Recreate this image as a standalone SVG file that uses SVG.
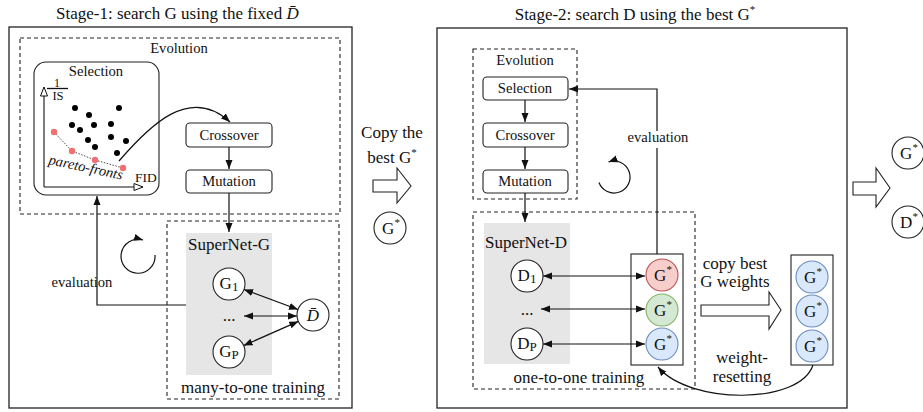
<svg xmlns="http://www.w3.org/2000/svg" width="923" height="412" viewBox="0 0 923 412" font-family="'Liberation Serif', 'Times New Roman', 'DejaVu Serif', serif">
<style>
text{fill:#111;}
.t17{font-size:17px;}
.t15{font-size:14.6px;}
.mid{text-anchor:middle;}
.panel{fill:#fff;stroke:#222;stroke-width:1.3;}
.dash{fill:none;stroke:#222;stroke-width:1.1;stroke-dasharray:4,3;}
.box{fill:#fff;stroke:#222;stroke-width:1.1;}
.gray{fill:#e6e6e6;stroke:none;}
.node{fill:#fff;stroke:#222;stroke-width:1.1;}
.red{fill:#f8cecc;stroke:#b85450;stroke-width:1.1;}
.green{fill:#d5e8d4;stroke:#82b366;stroke-width:1.1;}
.blue{fill:#dae8fc;stroke:#6c8ebf;stroke-width:1.1;}
.line{fill:none;stroke:#111;stroke-width:1.2;}
.one{marker-end:url(#arr);}
.two{marker-start:url(#arr);marker-end:url(#arr);}
.block{fill:#fff;stroke:#222;stroke-width:1.1;}
.sup{font-size:11px;}
.sub{font-size:13px;}
.dot{fill:#000;}
.rdot{fill:#f07070;}
</style>
<defs>
<marker id="arr" markerUnits="userSpaceOnUse" markerWidth="10" markerHeight="8" refX="9" refY="4" orient="auto-start-reverse">
<path d="M0,0.5 L9,4 L0,7.5 z" fill="#111"/>
</marker>
<marker id="hollow" markerUnits="userSpaceOnUse" markerWidth="12" markerHeight="10" refX="10" refY="4.5" orient="auto">
<path d="M1,1 L10,4.5 L1,8 z" fill="#fff" stroke="#111" stroke-width="1"/>
</marker>
</defs>

<!-- Stage 1 -->
<g id="stage1">
<text class="t17" x="56" y="19">Stage-1: search G using the fixed <tspan font-style="italic">D̄</tspan></text>
<rect class="panel" x="9" y="27" width="343" height="381"/>
</g>
<g id="evolution1">
<rect class="dash" x="20" y="38" width="320" height="176"/>
<text class="t15 mid" x="179" y="53">Evolution</text>
</g>
<g id="selection1">
<rect class="box" x="34" y="62" width="125" height="133" rx="12"/>
<text class="t15 mid" x="96" y="76">Selection</text>
<line x1="44" y1="187" x2="44" y2="87" stroke="#111" stroke-width="1.1" marker-end="url(#hollow)"/>
<line x1="44" y1="187" x2="143" y2="187" stroke="#111" stroke-width="1.1" marker-end="url(#hollow)"/>
<text x="57" y="86.5" font-size="12" text-anchor="middle">1</text>
<line x1="47" y1="88.5" x2="68" y2="88.5" stroke="#111" stroke-width="1.3"/>
<text x="58" y="100" font-size="12.5" text-anchor="middle">IS</text>
<text x="135" y="182" font-size="13.5">FID</text>
<circle class="dot" cx="75" cy="108" r="3"/>
<circle class="dot" cx="89" cy="115" r="3"/>
<circle class="dot" cx="119" cy="108" r="3"/>
<circle class="dot" cx="72" cy="125" r="3"/>
<circle class="dot" cx="94" cy="125" r="3"/>
<circle class="dot" cx="111" cy="124" r="3"/>
<circle class="dot" cx="80" cy="130" r="3"/>
<circle class="dot" cx="88" cy="140" r="3"/>
<circle class="dot" cx="111" cy="137" r="3"/>
<circle class="dot" cx="126" cy="141" r="3"/>
<circle class="dot" cx="95" cy="147" r="3"/>
<circle class="dot" cx="117" cy="153" r="3"/>
<polyline points="54,132 72,151 95,160 123,168" fill="none" stroke="#333" stroke-width="0.9" stroke-dasharray="1.5,1.5"/>
<circle class="rdot" cx="54" cy="132" r="3.2"/>
<circle class="rdot" cx="72" cy="151" r="3.2"/>
<circle class="rdot" cx="95" cy="160" r="3.2"/>
<circle class="rdot" cx="123" cy="168" r="3.2"/>
<text x="48" y="164" font-size="14.5" font-style="italic" transform="rotate(12 48 164)">pareto-fronts</text>
</g>
<g id="crossover1">
<rect class="box" x="186" y="123" width="86" height="24" rx="4"/>
<text class="t15 mid" x="229" y="140">Crossover</text>
</g>
<g id="mutation1">
<rect class="box" x="186" y="170" width="86" height="23" rx="4"/>
<text class="t15 mid" x="229" y="186">Mutation</text>
</g>
<g id="cycle1">
<path class="line" d="M155,255 A17,17 0 1 1 143,240" marker-end="url(#arr)"/>
</g>
<g id="training1">
<rect class="dash" x="167" y="221" width="172" height="178"/>
<rect class="gray" x="186" y="233" width="86" height="142"/>
<text class="t17 mid" x="229" y="250">SuperNet-G</text>
<text class="t17 mid" x="253" y="393">many-to-one training</text>
<text class="t17 mid" x="229" y="321">...</text>
</g>
<g id="G1">
<circle class="node" cx="229" cy="284" r="16"/>
<text class="t17 mid" x="229" y="289">G<tspan class="sub" dy="2">1</tspan></text>
</g>
<g id="Gp">
<circle class="node" cx="229" cy="352" r="16"/>
<text class="t17 mid" x="229" y="357">G<tspan class="sub" dy="2">P</tspan></text>
</g>
<g id="Dbar">
<circle class="node" cx="313" cy="315" r="16"/>
<text class="t17 mid" x="313" y="321" font-style="italic">D̄</text>
</g>
<g id="evaluation1label">
<text class="t15 mid" x="82" y="287">evaluation</text>
</g>

<!-- middle -->
<g id="copy-best">
<text class="t17 mid" x="392" y="138">Copy the</text>
<text class="t17 mid" x="392" y="163">best G<tspan class="sup" dy="-7">*</tspan></text>
<polygon class="block" points="373,180 397,180 397,168 411,186 397,203 397,192 373,192"/>
</g>
<g id="Gstar-mid">
<circle class="node" cx="390" cy="228" r="16"/>
<text class="t17 mid" x="391" y="234">G<tspan class="sup" dy="-8">*</tspan></text>
</g>

<!-- Stage 2 -->
<g id="stage2">
<text class="t17 mid" x="635" y="20">Stage-2: search D using the best G<tspan class="sup" dy="-7">*</tspan></text>
<rect class="panel" x="437" y="28" width="410" height="380"/>
</g>
<g id="evolution2">
<rect class="dash" x="473" y="49" width="104" height="150"/>
<text class="t15 mid" x="525" y="65">Evolution</text>
</g>
<g id="selection2">
<rect class="box" x="483" y="77" width="85" height="23" rx="4"/>
<text class="t15 mid" x="525" y="93">Selection</text>
</g>
<g id="crossover2">
<rect class="box" x="483" y="123" width="85" height="24" rx="4"/>
<text class="t15 mid" x="525" y="140">Crossover</text>
</g>
<g id="mutation2">
<rect class="box" x="483" y="170" width="85" height="23" rx="4"/>
<text class="t15 mid" x="525" y="186">Mutation</text>
</g>
<g id="cycle2">
<path class="line" d="M599,182.5 A16,16 0 1 0 608.5,162" marker-end="url(#arr)"/>
</g>
<g id="evaluation2label">
<text class="t15 mid" x="658" y="142">evaluation</text>
</g>
<g id="training2">
<rect class="dash" x="473" y="212" width="222" height="177"/>
<rect class="gray" x="484" y="223" width="86" height="141"/>
<text class="t17 mid" x="526" y="248">SuperNet-D</text>
<text class="t17 mid" x="579" y="383">one-to-one training</text>
<text class="t17 mid" x="527" y="315">...</text>
</g>
<g id="D1">
<circle class="node" cx="527" cy="276" r="16"/>
<text class="t17 mid" x="527" y="281">D<tspan class="sub" dy="2">1</tspan></text>
</g>
<g id="Dp">
<circle class="node" cx="527" cy="344" r="16"/>
<text class="t17 mid" x="527" y="349">D<tspan class="sub" dy="2">P</tspan></text>
</g>
<g id="Gstar-column">
<rect class="box" x="631" y="254" width="52" height="111"/>
<circle class="red" cx="662" cy="275" r="16"/>
<text class="t17 mid" x="663" y="281">G<tspan class="sup" dy="-8">*</tspan></text>
<circle class="green" cx="662" cy="310" r="16"/>
<text class="t17 mid" x="663" y="316">G<tspan class="sup" dy="-8">*</tspan></text>
<circle class="blue" cx="662" cy="344" r="16"/>
<text class="t17 mid" x="663" y="350">G<tspan class="sup" dy="-8">*</tspan></text>
</g>
<g id="copy-weights">
<text class="t17 mid" x="735" y="269">copy best</text>
<text class="t17 mid" x="735" y="287">G weights</text>
<polygon class="block" points="701,305 769,305 769,292 781,310 769,329 769,316 701,316"/>
</g>
<g id="Gstar-copies">
<rect class="box" x="791" y="255" width="42" height="110"/>
<circle class="blue" cx="812" cy="277" r="16"/>
<text class="t17 mid" x="813" y="283">G<tspan class="sup" dy="-8">*</tspan></text>
<circle class="blue" cx="812" cy="311" r="16"/>
<text class="t17 mid" x="813" y="317">G<tspan class="sup" dy="-8">*</tspan></text>
<circle class="blue" cx="812" cy="346" r="16"/>
<text class="t17 mid" x="813" y="352">G<tspan class="sup" dy="-8">*</tspan></text>
</g>
<g id="reset-label">
<text class="t17 mid" x="742" y="363">weight-</text>
<text class="t17 mid" x="742" y="382">resetting</text>
</g>

<!-- final -->
<g id="final-arrow">
<polygon class="block" points="853,182 876,182 876,168 890,188 876,207 876,195 853,195"/>
</g>
<g id="Gstar-final">
<circle class="node" cx="908" cy="153" r="16"/>
<text class="t17 mid" x="909" y="159">G<tspan class="sup" dy="-8">*</tspan></text>
</g>
<g id="Dstar-final">
<circle class="node" cx="908" cy="222" r="16"/>
<text class="t17 mid" x="909" y="228">D<tspan class="sup" dy="-8">*</tspan></text>
</g>

<g id="connectors">
<path class="line one" d="M119,161 C150,125 190,85 230,122"/>
<path class="line one" d="M229,147 L229,169"/>
<path class="line one" d="M229,193 L229,232"/>
<path class="line one" d="M186,305 L97,305 L97,196"/>
<path class="line two" d="M244,289.5 L298,309.5"/>
<path class="line two" d="M244,316 L297,316"/>
<path class="line two" d="M243.6,345.6 L298.4,321.4"/>
<path class="line one" d="M525,100 L525,122"/>
<path class="line one" d="M525,147 L525,169"/>
<path class="line one" d="M525,193 L525,222"/>
<path class="line" d="M657,254 L657,148"/>
<path class="line one" d="M657,131 L657,89 L569,89"/>
<path class="line two" d="M543,276 L645,276"/>
<path class="line two" d="M541,309 L645,309"/>
<path class="line two" d="M543,344 L645,344"/>
<path class="line one" d="M813,365 C800,405 690,405 658,367"/>
</g>
</svg>
